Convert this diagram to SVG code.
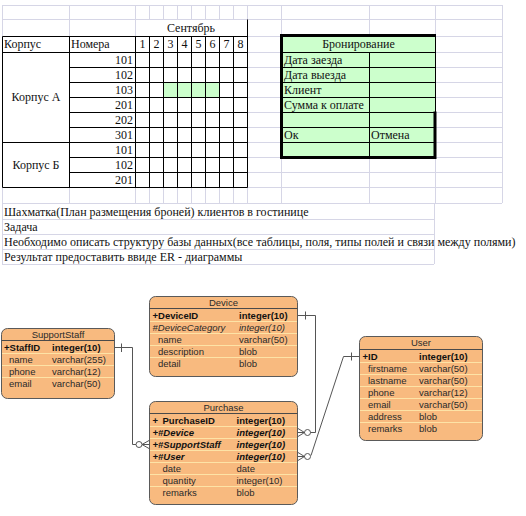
<svg xmlns="http://www.w3.org/2000/svg" width="526" height="516" viewBox="0 0 526 516">
<style>
.g{stroke:#d6d6e6;stroke-width:1;fill:none}
.b{stroke:#000;stroke-width:1;fill:none}
.s{font-family:"Liberation Serif","Times New Roman",serif;font-size:12px;fill:#111}
.r{text-anchor:end}
.c{text-anchor:middle}
.ent{fill:#f8ba7f;stroke:#5a5a5a;stroke-width:1}
.hl{stroke:#4a4a4a;stroke-width:1}
.sep{stroke:#fde3a6;stroke-width:1}
.e{font-family:"Liberation Sans",Arial,sans-serif;font-size:9.5px;fill:#2a2a2a}
.t{text-anchor:middle}
.k{font-weight:bold;fill:#111}
.i{font-style:italic}
.con{stroke:#555;stroke-width:1;fill:none}
</style>
<rect width="526" height="516" fill="#fff"/>
<g id="grid">
<path class="g" d="M2 5.5H502M2 19.5H502M2 36.5H502M2 52.5H502M2 67.5H502M2 82.5H502M2 97.5H502M2 112.5H502M2 127.5H502M2 142.5H502M2 157.5H502M2 172.5H502M2 187.5H502M2 203.5H502M2 219.5H434M2 234.5H434M2 249.5H434M2 264.5H434"/>
<path class="g" d="M2.5 5V264M69.5 5V203M135.5 5V203M149.5 5V203M163.5 5V203M177.5 5V203M191.5 5V203M205.5 5V203M219.5 5V203M233.5 5V203M247.5 5V203M281.5 5V203M369.5 5V203M435.5 5V203M502.5 5V203M434.5 203V264"/>
</g>
<g id="chess">
<rect x="136" y="20" width="111" height="16" fill="#fff"/>
<rect x="2.5" y="36.5" width="245" height="151" fill="#fff"/>
<rect x="163.5" y="82.5" width="56" height="15" fill="#ccffcc"/>
<path class="b" d="M2.5 36.5H247.5M2.5 52.5H247.5M69.5 67.5H247.5M69.5 82.5H247.5M69.5 97.5H247.5M69.5 112.5H247.5M69.5 127.5H247.5M2.5 142.5H247.5M69.5 157.5H247.5M69.5 172.5H247.5M2.5 187.5H247.5"/>
<path class="b" d="M2.5 36.5V187.5M69.5 36.5V187.5M135.5 36.5V187.5M149.5 36.5V187.5M163.5 36.5V187.5M177.5 36.5V187.5M191.5 36.5V187.5M205.5 36.5V187.5M219.5 36.5V187.5M233.5 36.5V187.5M247.5 19.5V187.5"/>
<text class="s c" x="191" y="32">Сентябрь</text>
<text class="s" x="4" y="48">Корпус</text>
<text class="s" x="71" y="48">Номера</text>
<text class="s c" x="142.5" y="48">1</text>
<text class="s c" x="156.5" y="48">2</text>
<text class="s c" x="170.5" y="48">3</text>
<text class="s c" x="184.5" y="48">4</text>
<text class="s c" x="198.5" y="48">5</text>
<text class="s c" x="212.5" y="48">6</text>
<text class="s c" x="226.5" y="48">7</text>
<text class="s c" x="240.5" y="48">8</text>
<text class="s r" x="133" y="64">101</text>
<text class="s r" x="133" y="79">102</text>
<text class="s r" x="133" y="94">103</text>
<text class="s r" x="133" y="109">201</text>
<text class="s r" x="133" y="124">202</text>
<text class="s r" x="133" y="139">301</text>
<text class="s r" x="133" y="154">101</text>
<text class="s r" x="133" y="169">102</text>
<text class="s r" x="133" y="184">201</text>
<text class="s c" x="36" y="101">Корпус А</text>
<text class="s c" x="36" y="168.5">Корпус Б</text>
</g>
<g id="booking">
<rect x="281.5" y="35.5" width="154" height="122" fill="#ccffcc"/>
<path class="b" d="M281.5 52.5H435.5M281.5 67.5H435.5M281.5 82.5H435.5M281.5 97.5H435.5M281.5 112.5H435.5M281.5 127.5H435.5M281.5 142.5H435.5M369.5 52.5V157.5M435.5 35.5V112"/>
<path stroke="#000" stroke-width="3" fill="none" d="M435 111.5V157.5H281.5V35.5H436"/>
<text class="s c" x="358.5" y="48">Бронирование</text>
<text class="s" x="284" y="64">Дата заезда</text>
<text class="s" x="284" y="79">Дата выезда</text>
<text class="s" x="284" y="94">Клиент</text>
<text class="s" x="284" y="109">Сумма к оплате</text>
<text class="s" x="284" y="139">Ок</text>
<text class="s" x="371" y="139">Отмена</text>
</g>
<g id="task">
<text class="s" x="4" y="215.5">Шахматка(План размещения броней) клиентов в гостинице</text>
<text class="s" x="4" y="231">Задача</text>
<text class="s" x="4" y="246">Необходимо описать структуру базы данных(все таблицы, поля, типы полей и связи между полями)</text>
<text class="s" x="4" y="261">Результат предоставить ввиде ER - диаграммы</text>
</g>
<g id="connectors">
<path class="con" d="M115 347.5H132.5V444.5H136"/>
<path class="con" d="M121.5 343.5V352"/>
<circle class="con" cx="139" cy="444.5" r="3"/>
<path class="con" d="M142 444.5H149M142 444.5L149 440.5M142 444.5L149 448.5"/>
<path class="con" d="M298 315.5H315.5V432.5H310.5"/>
<path class="con" d="M305.5 311.5V319.5"/>
<circle class="con" cx="307.5" cy="432.5" r="3"/>
<path class="con" d="M304.5 432.5H298M304.5 432.5L298 428.5M304.5 432.5L298 436.5"/>
<path class="con" d="M359 356.5H343.5L311 455.5"/>
<path class="con" d="M351.5 352.5V360.5"/>
<circle class="con" cx="307.5" cy="456.5" r="3"/>
<path class="con" d="M304.5 456.5H298M304.5 456.5L298 452.5M304.5 456.5L298 460.5"/>
</g>
<g id="SupportStaff">
<rect class="ent" x="1.5" y="328.5" width="113" height="70" rx="6"/>
<path class="hl" d="M1.5 340.5H114.5"/>
<path class="sep" d="M2 353.5H114M2 365.5H114M2 377.5H114"/>
<text class="e t" x="58" y="337.5">SupportStaff</text>
<text class="e k" x="4" y="351">+StaffID</text><text class="e k" x="52" y="351">integer(10)</text>
<text class="e" x="9" y="363">name</text><text class="e" x="52" y="363">varchar(255)</text>
<text class="e" x="9" y="375">phone</text><text class="e" x="52" y="375">varchar(12)</text>
<text class="e" x="9" y="387">email</text><text class="e" x="52" y="387">varchar(50)</text>
</g>
<g id="Device">
<rect class="ent" x="149.5" y="296.5" width="148" height="80" rx="6"/>
<path class="hl" d="M149.5 308.5H297.5"/>
<path class="sep" d="M150 321.5H297M150 333.5H297M150 345.5H297M150 357.5H297"/>
<text class="e t" x="223.5" y="305.5">Device</text>
<text class="e k" x="152.5" y="319">+DeviceID</text><text class="e k" x="239" y="319">integer(10)</text>
<text class="e i" x="152.5" y="331">#DeviceCategory</text><text class="e i" x="239" y="331">integer(10)</text>
<text class="e" x="158" y="343">name</text><text class="e" x="239" y="343">varchar(50)</text>
<text class="e" x="158" y="355">description</text><text class="e" x="239" y="355">blob</text>
<text class="e" x="158" y="367">detail</text><text class="e" x="239" y="367">blob</text>
</g>
<g id="Purchase">
<rect class="ent" x="149.5" y="401.5" width="148" height="103" rx="6"/>
<path class="hl" d="M149.5 413.5H297.5"/>
<path class="sep" d="M150 426.5H297M150 438.5H297M150 450.5H297M150 462.5H297M150 474.5H297M150 486.5H297"/>
<text class="e t" x="223.5" y="410.5">Purchase</text>
<text class="e k" x="152.5" y="424">+<tspan x="162.5">PurchaseID</tspan></text><text class="e k" x="236.5" y="424">integer(10)</text>
<text class="e k i" x="152.5" y="436">+#Device</text><text class="e k i" x="236.5" y="436">integer(10)</text>
<text class="e k i" x="152.5" y="448">+#SupportStaff</text><text class="e k i" x="236.5" y="448">integer(10)</text>
<text class="e k i" x="152.5" y="460">+#User</text><text class="e k i" x="236.5" y="460">integer(10)</text>
<text class="e" x="162.5" y="472">date</text><text class="e" x="236.5" y="472">date</text>
<text class="e" x="162.5" y="484">quantity</text><text class="e" x="236.5" y="484">integer(10)</text>
<text class="e" x="162.5" y="496">remarks</text><text class="e" x="236.5" y="496">blob</text>
</g>
<g id="User">
<rect class="ent" x="359.5" y="336.5" width="123" height="104" rx="6"/>
<path class="hl" d="M359.5 349.5H482.5"/>
<path class="sep" d="M360 362.5H482M360 374.5H482M360 386.5H482M360 398.5H482M360 410.5H482M360 422.5H482"/>
<text class="e t" x="421" y="345.5">User</text>
<text class="e k" x="362.5" y="360">+ID</text><text class="e k" x="419" y="360">integer(10)</text>
<text class="e" x="368" y="372">firstname</text><text class="e" x="419" y="372">varchar(50)</text>
<text class="e" x="368" y="384">lastname</text><text class="e" x="419" y="384">varchar(50)</text>
<text class="e" x="368" y="396">phone</text><text class="e" x="419" y="396">varchar(12)</text>
<text class="e" x="368" y="408">email</text><text class="e" x="419" y="408">varchar(50)</text>
<text class="e" x="368" y="420">address</text><text class="e" x="419" y="420">blob</text>
<text class="e" x="368" y="432">remarks</text><text class="e" x="419" y="432">blob</text>
</g>
</svg>
